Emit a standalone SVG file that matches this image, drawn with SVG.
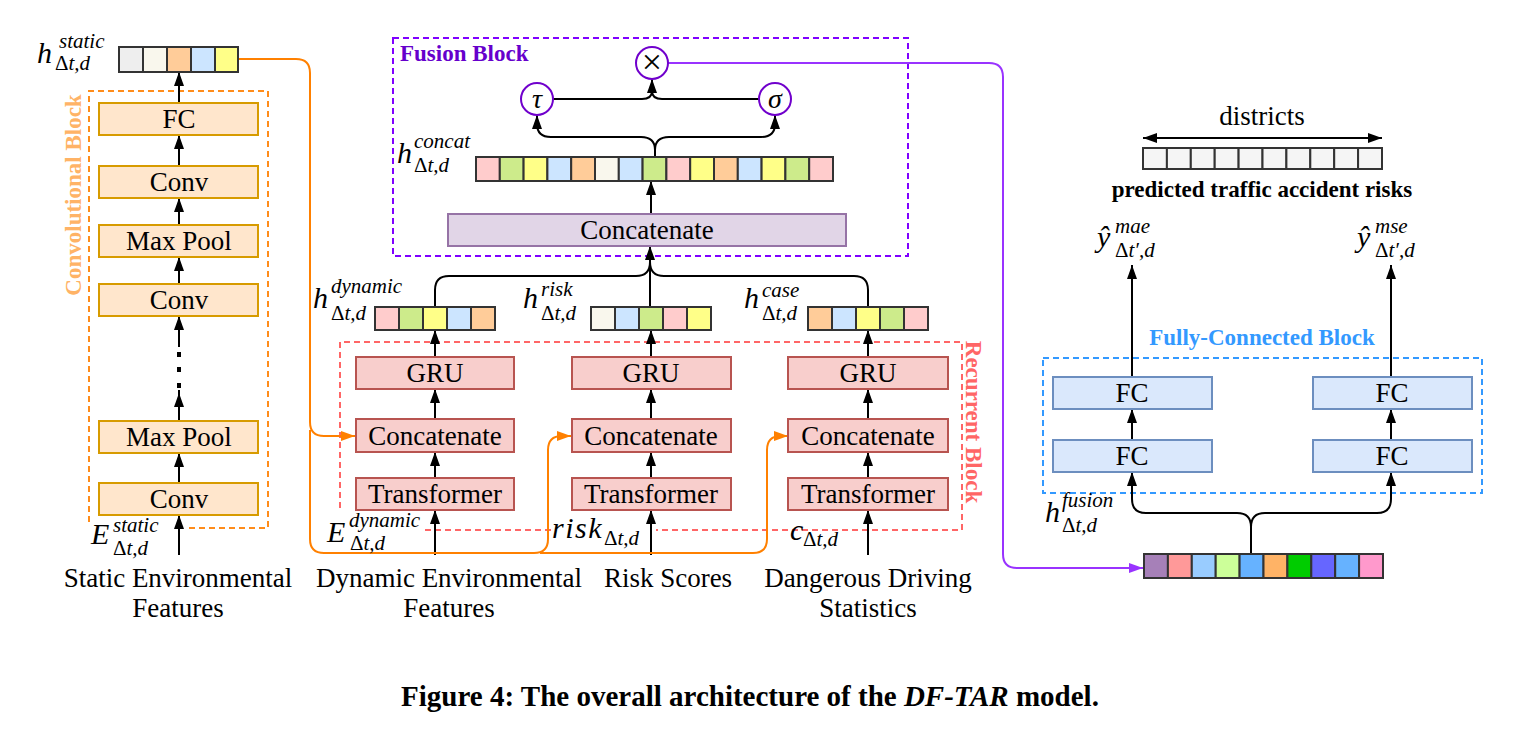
<svg xmlns="http://www.w3.org/2000/svg" width="1519" height="735" viewBox="0 0 1519 735">
<style>
text{font-family:"Liberation Serif","Times New Roman",serif;fill:#000}
.lbl{font-size:27px;text-anchor:middle}
.m{font-size:30px;font-style:italic}
.s{font-size:21px;font-style:italic}
.up{font-style:normal}
.blk{font-weight:bold;font-size:23px}
.cv{fill:#ffe6cc;stroke:#d79b00;stroke-width:2}
.rc{fill:#f8cecc;stroke:#b85450;stroke-width:2}
.fc{fill:#dae8fc;stroke:#6c8ebf;stroke-width:2}
.cell{stroke:#333;stroke-width:2}
.ln{fill:none;stroke:#000;stroke-width:2}
.ar{marker-end:url(#ah)}
.or{fill:none;stroke:#ff8000;stroke-width:2;marker-end:url(#ao)}
.dash{fill:none;stroke-width:2;stroke-dasharray:6 4}
.circ{fill:#fff;stroke:#7000cc;stroke-width:2}
</style>
<defs>
<marker id="ah" viewBox="0 0 14 10" refX="14" refY="5" markerWidth="14" markerHeight="10" markerUnits="userSpaceOnUse" orient="auto-start-reverse"><path d="M0,0L14,5L0,10z" fill="#000"/></marker>
<marker id="ao" viewBox="0 0 14 10" refX="14" refY="5" markerWidth="14" markerHeight="10" markerUnits="userSpaceOnUse" orient="auto"><path d="M0,0L14,5L0,10z" fill="#ff8000"/></marker>
<marker id="ap" viewBox="0 0 14 10" refX="14" refY="5" markerWidth="14" markerHeight="10" markerUnits="userSpaceOnUse" orient="auto"><path d="M0,0L14,5L0,10z" fill="#9933ff"/></marker>
</defs>
<rect width="1519" height="735" fill="#fff"/>

<!-- Blocks (dashed containers) -->
<g id="conv-block">
<path class="dash" stroke="#ff8c1a" d="M89,522V91H268V528H186"/>
<text class="blk" text-anchor="middle" transform="translate(81,195) rotate(-90)" style="fill:#ffb366">Convolutional Block</text>
</g>
<g id="recurrent-block">
<path class="dash" stroke="#ff6666" stroke-width="1.5" d="M340,508V342H962V530H656M551,530H423"/>
<text class="blk" text-anchor="middle" transform="translate(966,422) rotate(90)" style="fill:#ff6666">Recurrent Block</text>
</g>
<g id="fusion-block">
<rect class="dash" stroke="#7f00ff" x="393" y="38" width="515" height="218"/>
<text class="blk" x="400" y="61" style="fill:#6600cc">Fusion Block</text>
</g>
<g id="fc-block">
<rect class="dash" stroke="#3399ff" x="1043" y="358" width="439" height="135"/>
<text class="blk" x="1262" y="345" text-anchor="middle" style="fill:#3399ff">Fully-Connected Block</text>
</g>

<!-- Connectors -->
<g id="connectors">
<path class="ln ar" d="M179,555V515"/>
<path class="ln ar" d="M179,483V453"/>
<path class="ln ar" d="M179,421V393"/>
<path class="ln" d="M179,393V390"/>
<rect x="177" y="383" width="4" height="5" fill="#000"/>
<rect x="177" y="367" width="4" height="5" fill="#000"/>
<rect x="177" y="352" width="4" height="5" fill="#000"/>
<path class="ln ar" d="M179,347V316"/>
<path class="ln ar" d="M179,284V257"/>
<path class="ln ar" d="M179,225V198"/>
<path class="ln ar" d="M179,166V135"/>
<path class="ln ar" d="M179,103V72"/>
<path class="ln ar" d="M435,555V510"/>
<path class="ln ar" d="M435,478V452"/>
<path class="ln ar" d="M435,419V389"/>
<path class="ln ar" d="M435,357V330"/>
<path class="ln ar" d="M651,555V510"/>
<path class="ln ar" d="M651,478V452"/>
<path class="ln ar" d="M651,419V389"/>
<path class="ln ar" d="M651,357V330"/>
<path class="ln ar" d="M868,555V510"/>
<path class="ln ar" d="M868,478V452"/>
<path class="ln ar" d="M868,419V389"/>
<path class="ln ar" d="M868,357V330"/>
<path class="ln" d="M435,307V290Q435,276 449,276H636Q650,276 650,262"/>
<path class="ln" d="M868,307V290Q868,276 854,276H664Q650,276 650,262"/>
<path class="ln ar" d="M650,307V246"/>
<path class="ln ar" d="M651,214V181"/>
<path class="ln ar" d="M655,157V150Q655,137 641,137H551Q537,137 537,124V115"/>
<path class="ln ar" d="M655,150Q655,137 669,137H761Q775,137 775,124V115"/>
<path class="ln" d="M552,99H642Q652,99 652,91M759,99H662Q652,99 652,91"/>
<path class="ln ar" d="M652,95V79"/>
<path class="or" d="M238,59H296Q310,59 310,73V422Q310,436 324,436H355"/>
<path class="or" d="M310,430V539Q310,553 324,553H534Q548,553 548,539V450Q548,436 562,436H571"/>
<path class="or" d="M540,553H753Q767,553 767,539V450Q767,436 781,436H788"/>
<path fill="none" stroke="#9933ff" stroke-width="2" marker-end="url(#ap)" d="M668,63H989Q1003,63 1003,77V554Q1003,568 1017,568H1143"/>
<path class="ln ar" d="M1251,554V527Q1251,513 1237,513H1146Q1132,513 1132,499V472"/>
<path class="ln ar" d="M1251,527Q1251,513 1265,513H1377Q1391,513 1391,499V472"/>
<path class="ln ar" d="M1132,440V409"/>
<path class="ln ar" d="M1391,440V409"/>
<path class="ln ar" d="M1132,377V265"/>
<path class="ln ar" d="M1391,377V265"/>
<path class="ln" marker-start="url(#ah)" marker-end="url(#ah)" d="M1143,138H1382"/>
</g>

<!-- Convolutional nodes -->
<g id="conv-fc"><rect class="cv" x="99" y="103" width="159" height="32"/><text class="lbl" x="179" y="128">FC</text></g>
<g id="conv-conv3"><rect class="cv" x="99" y="166" width="159" height="32"/><text class="lbl" x="179" y="191">Conv</text></g>
<g id="conv-pool2"><rect class="cv" x="99" y="225" width="159" height="32"/><text class="lbl" x="179" y="250">Max Pool</text></g>
<g id="conv-conv2"><rect class="cv" x="99" y="284" width="159" height="32"/><text class="lbl" x="179" y="309">Conv</text></g>
<g id="conv-pool1"><rect class="cv" x="99" y="421" width="159" height="32"/><text class="lbl" x="179" y="446">Max Pool</text></g>
<g id="conv-conv1"><rect class="cv" x="99" y="483" width="159" height="32"/><text class="lbl" x="179" y="508">Conv</text></g>

<!-- Recurrent nodes -->
<g id="dyn-gru"><rect class="rc" x="356" y="357" width="158" height="32"/><text class="lbl" x="435" y="382">GRU</text></g>
<g id="dyn-concat"><rect class="rc" x="356" y="419" width="158" height="33"/><text class="lbl" x="435" y="445">Concatenate</text></g>
<g id="dyn-trans"><rect class="rc" x="356" y="478" width="158" height="32"/><text class="lbl" x="435" y="503">Transformer</text></g>
<g id="risk-gru"><rect class="rc" x="572" y="357" width="159" height="32"/><text class="lbl" x="651" y="382">GRU</text></g>
<g id="risk-concat"><rect class="rc" x="572" y="419" width="159" height="33"/><text class="lbl" x="651" y="445">Concatenate</text></g>
<g id="risk-trans"><rect class="rc" x="572" y="478" width="159" height="32"/><text class="lbl" x="651" y="503">Transformer</text></g>
<g id="case-gru"><rect class="rc" x="788" y="357" width="160" height="32"/><text class="lbl" x="868" y="382">GRU</text></g>
<g id="case-concat"><rect class="rc" x="788" y="419" width="160" height="33"/><text class="lbl" x="868" y="445">Concatenate</text></g>
<g id="case-trans"><rect class="rc" x="788" y="478" width="160" height="32"/><text class="lbl" x="868" y="503">Transformer</text></g>

<!-- Fusion nodes -->
<g id="fusion-concat"><rect fill="#e1d5e7" stroke="#9673a6" stroke-width="2" x="448" y="214" width="398" height="32"/><text class="lbl" x="647" y="239">Concatenate</text></g>
<g id="tau"><circle class="circ" cx="537" cy="99" r="16"/><text x="537" y="108" text-anchor="middle" style="font-size:28px;font-style:italic">τ</text></g>
<g id="sigma"><circle class="circ" cx="775" cy="99" r="16"/><text x="775" y="108" text-anchor="middle" style="font-size:28px;font-style:italic">σ</text></g>
<g id="mult"><circle class="circ" cx="652" cy="63" r="16"/><text x="652" y="74" text-anchor="middle" style="font-size:36px">×</text></g>

<!-- FC nodes -->
<g id="fc-l2"><rect class="fc" x="1053" y="377" width="159" height="32"/><text class="lbl" x="1132" y="402">FC</text></g>
<g id="fc-l1"><rect class="fc" x="1053" y="440" width="159" height="32"/><text class="lbl" x="1132" y="465">FC</text></g>
<g id="fc-r2"><rect class="fc" x="1313" y="377" width="159" height="32"/><text class="lbl" x="1392" y="402">FC</text></g>
<g id="fc-r1"><rect class="fc" x="1313" y="440" width="159" height="32"/><text class="lbl" x="1392" y="465">FC</text></g>

<!-- Vectors -->
<g id="vec-static">
<rect class="cell" x="119" y="47" width="24" height="25" fill="#eeeeee"/>
<rect class="cell" x="143" y="47" width="24" height="25" fill="#f9f7ed"/>
<rect class="cell" x="167" y="47" width="24" height="25" fill="#ffcc99"/>
<rect class="cell" x="191" y="47" width="24" height="25" fill="#cce5ff"/>
<rect class="cell" x="215" y="47" width="23" height="25" fill="#ffff88"/>
</g>
<g id="vec-dynamic">
<rect class="cell" x="375" y="307" width="24" height="23" fill="#ffcccc"/>
<rect class="cell" x="399" y="307" width="24" height="23" fill="#cdeb8b"/>
<rect class="cell" x="423" y="307" width="24" height="23" fill="#ffff88"/>
<rect class="cell" x="447" y="307" width="24" height="23" fill="#cce5ff"/>
<rect class="cell" x="471" y="307" width="24" height="23" fill="#ffcc99"/>
</g>
<g id="vec-risk">
<rect class="cell" x="591" y="307" width="24" height="23" fill="#f9f7ed"/>
<rect class="cell" x="615" y="307" width="24" height="23" fill="#cce5ff"/>
<rect class="cell" x="639" y="307" width="24" height="23" fill="#cdeb8b"/>
<rect class="cell" x="663" y="307" width="24" height="23" fill="#ffcccc"/>
<rect class="cell" x="687" y="307" width="24" height="23" fill="#ffff88"/>
</g>
<g id="vec-case">
<rect class="cell" x="808" y="307" width="24" height="23" fill="#ffcc99"/>
<rect class="cell" x="832" y="307" width="24" height="23" fill="#cce5ff"/>
<rect class="cell" x="856" y="307" width="24" height="23" fill="#ffff88"/>
<rect class="cell" x="880" y="307" width="24" height="23" fill="#cdeb8b"/>
<rect class="cell" x="904" y="307" width="24" height="23" fill="#ffcccc"/>
</g>
<g id="vec-concat">
<rect class="cell" x="476" y="157" width="23.8" height="24" fill="#ffcccc"/>
<rect class="cell" x="499.8" y="157" width="23.8" height="24" fill="#cdeb8b"/>
<rect class="cell" x="523.6" y="157" width="23.8" height="24" fill="#ffff88"/>
<rect class="cell" x="547.4" y="157" width="23.8" height="24" fill="#cce5ff"/>
<rect class="cell" x="571.2" y="157" width="23.8" height="24" fill="#ffcc99"/>
<rect class="cell" x="595" y="157" width="23.8" height="24" fill="#f9f7ed"/>
<rect class="cell" x="618.8" y="157" width="23.8" height="24" fill="#cce5ff"/>
<rect class="cell" x="642.6" y="157" width="23.8" height="24" fill="#cdeb8b"/>
<rect class="cell" x="666.4" y="157" width="23.8" height="24" fill="#ffcccc"/>
<rect class="cell" x="690.2" y="157" width="23.8" height="24" fill="#ffff88"/>
<rect class="cell" x="714" y="157" width="23.8" height="24" fill="#ffcc99"/>
<rect class="cell" x="737.8" y="157" width="23.8" height="24" fill="#cce5ff"/>
<rect class="cell" x="761.6" y="157" width="23.8" height="24" fill="#ffff88"/>
<rect class="cell" x="785.4" y="157" width="23.8" height="24" fill="#cdeb8b"/>
<rect class="cell" x="809.2" y="157" width="23.8" height="24" fill="#ffcccc"/>
</g>
<g id="vec-output" fill="#f5f5f5">
<rect class="cell" x="1143" y="148" width="23.9" height="21"/>
<rect class="cell" x="1166.9" y="148" width="23.9" height="21"/>
<rect class="cell" x="1190.8" y="148" width="23.9" height="21"/>
<rect class="cell" x="1214.7" y="148" width="23.9" height="21"/>
<rect class="cell" x="1238.6" y="148" width="23.9" height="21"/>
<rect class="cell" x="1262.5" y="148" width="23.9" height="21"/>
<rect class="cell" x="1286.4" y="148" width="23.9" height="21"/>
<rect class="cell" x="1310.3" y="148" width="23.9" height="21"/>
<rect class="cell" x="1334.2" y="148" width="23.9" height="21"/>
<rect class="cell" x="1358.1" y="148" width="23.9" height="21"/>
</g>
<g id="vec-fusion">
<rect class="cell" x="1144" y="554" width="23.9" height="24" fill="#a680b8"/>
<rect class="cell" x="1167.9" y="554" width="23.9" height="24" fill="#ff9999"/>
<rect class="cell" x="1191.8" y="554" width="23.9" height="24" fill="#99ccff"/>
<rect class="cell" x="1215.7" y="554" width="23.9" height="24" fill="#ccff99"/>
<rect class="cell" x="1239.6" y="554" width="23.9" height="24" fill="#66b2ff"/>
<rect class="cell" x="1263.5" y="554" width="23.9" height="24" fill="#ffb366"/>
<rect class="cell" x="1287.4" y="554" width="23.9" height="24" fill="#00cc00"/>
<rect class="cell" x="1311.3" y="554" width="23.9" height="24" fill="#6666ff"/>
<rect class="cell" x="1335.2" y="554" width="23.9" height="24" fill="#66b2ff"/>
<rect class="cell" x="1359.1" y="554" width="23.9" height="24" fill="#ff99cc"/>
</g>

<!-- Math labels -->
<g id="label-h-static"><text class="m" x="37" y="63">h</text><text class="s" x="59" y="48">static</text><text class="s" x="55" y="70"><tspan class="up">Δ</tspan>t,d</text></g>
<g id="label-e-static"><text class="m" x="91" y="544">E</text><text class="s" x="113" y="532">static</text><text class="s" x="113" y="555"><tspan class="up">Δ</tspan>t,d</text></g>
<g id="label-e-dynamic"><text class="m" x="327" y="542">E</text><text class="s" x="349" y="527">dynamic</text><text class="s" x="350" y="550"><tspan class="up">Δ</tspan>t,d</text></g>
<g id="label-risk"><text class="m" x="552" y="538" letter-spacing="1.5">risk</text><text class="s" x="604" y="545"><tspan class="up">Δ</tspan>t,d</text></g>
<g id="label-c"><text class="m" x="790" y="540">c</text><text class="s" x="803" y="546"><tspan class="up">Δ</tspan>t,d</text></g>
<g id="label-h-dynamic"><text class="m" x="313" y="308">h</text><text class="s" x="331" y="293">dynamic</text><text class="s" x="331" y="320"><tspan class="up">Δ</tspan>t,d</text></g>
<g id="label-h-risk"><text class="m" x="523" y="308">h</text><text class="s" x="541" y="296">risk</text><text class="s" x="541" y="320"><tspan class="up">Δ</tspan>t,d</text></g>
<g id="label-h-case"><text class="m" x="744" y="308">h</text><text class="s" x="762" y="297">case</text><text class="s" x="762" y="320"><tspan class="up">Δ</tspan>t,d</text></g>
<g id="label-h-concat"><text class="m" x="397" y="163">h</text><text class="s" x="414" y="148">concat</text><text class="s" x="414" y="172"><tspan class="up">Δ</tspan>t,d</text></g>
<g id="label-y-mae"><text class="m" x="1097" y="247">ŷ</text><text class="s" x="1115" y="233">mae</text><text class="s" x="1115" y="257"><tspan class="up">Δ</tspan>t′,d</text></g>
<g id="label-y-mse"><text class="m" x="1357" y="247">ŷ</text><text class="s" x="1375" y="233">mse</text><text class="s" x="1375" y="257"><tspan class="up">Δ</tspan>t′,d</text></g>
<g id="label-h-fusion"><text class="m" x="1045" y="522">h</text><text class="s" x="1062" y="507">fusion</text><text class="s" x="1062" y="532"><tspan class="up">Δ</tspan>t,d</text></g>

<!-- Plain labels -->
<g id="input-labels">
<text class="lbl" x="178" y="587">Static Environmental</text>
<text class="lbl" x="178" y="617">Features</text>
<text class="lbl" x="449" y="587">Dynamic Environmental</text>
<text class="lbl" x="449" y="617">Features</text>
<text class="lbl" x="668" y="587">Risk Scores</text>
<text class="lbl" x="868" y="587">Dangerous Driving</text>
<text class="lbl" x="868" y="617">Statistics</text>
</g>
<g id="output-labels">
<text class="lbl" x="1262" y="125">districts</text>
<text x="1262" y="197" text-anchor="middle" style="font-weight:bold;font-size:23px">predicted traffic accident risks</text>
</g>
<text x="750" y="706" text-anchor="middle" style="font-weight:bold;font-size:29px">Figure 4: The overall architecture of the <tspan font-style="italic">DF-TAR</tspan> model.</text>
</svg>
